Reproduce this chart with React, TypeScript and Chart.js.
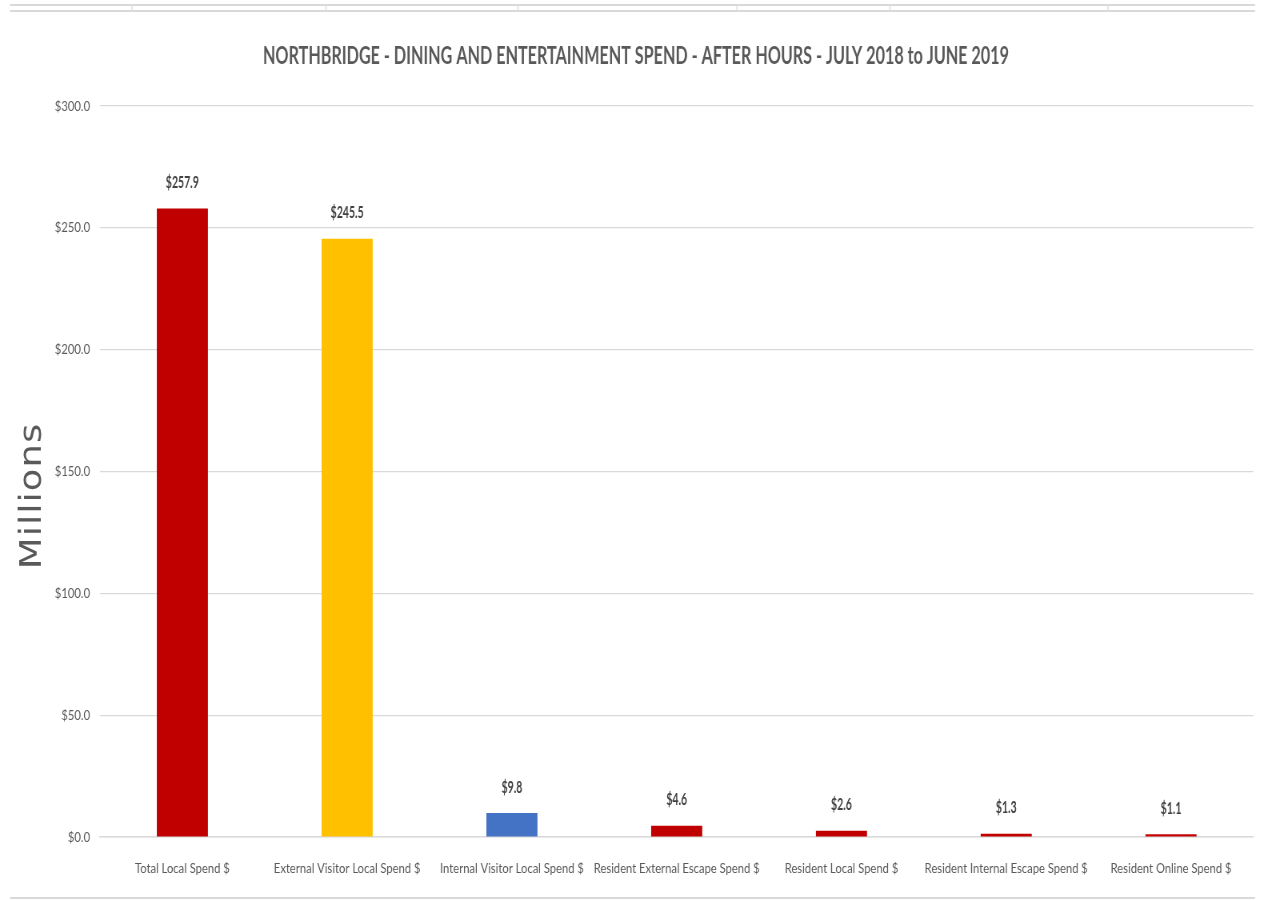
import React, { useEffect, useRef } from "react";
import { Chart, registerables } from "chart.js";

Chart.register(...registerables);

const categories = [
  "Total Local Spend $",
  "External Visitor Local Spend $",
  "Internal Visitor Local Spend $",
  "Resident External Escape Spend $",
  "Resident Local Spend $",
  "Resident Internal Escape Spend $",
  "Resident Online Spend $",
];
const values = [257.9, 245.5, 9.8, 4.6, 2.6, 1.3, 1.1];
const barColors = ["#C00000", "#FFC000", "#4472C4", "#C00000", "#C00000", "#C00000", "#C00000"];
const titleText = "NORTHBRIDGE - DINING AND ENTERTAINMENT SPEND - AFTER HOURS - JULY 2018 to JUNE 2019";
const yTitle = "Millions";

const SX = 0.8; // horizontal compression of the whole picture
const W = Math.round(1262 / SX);
const H = 900;
const FONT = 'Lato, "Open Sans", sans-serif';

const decorPlugin = {
  id: "decor",
  beforeDraw(chart: any) {
    const ctx = chart.ctx;
    ctx.save();
    ctx.fillStyle = "#fff";
    ctx.fillRect(0, 0, W, H);
    ctx.strokeStyle = "#d9d9d9";
    ctx.lineWidth = 2;
    ctx.beginPath();
    ctx.moveTo(10 / SX, 5);
    ctx.lineTo(1255 / SX, 5);
    ctx.moveTo(10 / SX, 11);
    ctx.lineTo(1255 / SX, 11);
    ctx.moveTo(10 / SX, 898);
    ctx.lineTo(1255 / SX, 898);
    ctx.stroke();
    ctx.lineWidth = 1.25;
    ctx.beginPath();
    [132, 326, 518, 737, 890, 1108].forEach((x) => {
      ctx.moveTo(x / SX, 5);
      ctx.lineTo(x / SX, 11);
    });
    ctx.stroke();
    ctx.restore();

    // chart title (extra-condensed bold)
    ctx.save();
    ctx.font = `bold 25px ${FONT}`;
    ctx.fillStyle = "#595959";
    ctx.textAlign = "center";
    ctx.textBaseline = "middle";
    const tw = ctx.measureText(titleText).width;
    const k = (746 / SX) / tw;
    ctx.translate(636 / SX, 56);
    ctx.scale(k, 1);
    ctx.fillText(titleText, 0, 0);
    ctx.restore();

    // y-axis title
    ctx.save();
    ctx.translate(33 / SX, 496);
    ctx.rotate(-Math.PI / 2);
    ctx.font = `37px "DejaVu Sans", sans-serif`;
    (ctx as any).letterSpacing = "1px";
    ctx.fillStyle = "#595959";
    ctx.textAlign = "center";
    ctx.textBaseline = "middle";
    ctx.fillText(yTitle, 0, 0);
    ctx.restore();
  },
  afterDatasetsDraw(chart: any) {
    const ctx = chart.ctx;
    const meta = chart.getDatasetMeta(0);
    ctx.save();
    ctx.font = `bold 17px ${FONT}`;
    ctx.fillStyle = "#404040";
    ctx.textAlign = "center";
    ctx.textBaseline = "middle";
    const k = (33 / SX) / ctx.measureText("$257.9").width;
    meta.data.forEach((el: any, i: number) => {
      ctx.save();
      ctx.translate(el.x, el.y - 26);
      ctx.scale(k, 1);
      ctx.fillText("$" + values[i].toFixed(1), 0, 0);
      ctx.restore();
    });
    ctx.restore();
  },
};

export default function App() {
  const ref = useRef<HTMLCanvasElement>(null);
  useEffect(() => {
    const chart = new Chart(ref.current!, {
      type: "bar",
      data: {
        labels: categories,
        datasets: [
          {
            data: values,
            backgroundColor: barColors,
            barPercentage: 0.31,
            categoryPercentage: 1,
          },
        ],
      },
      plugins: [decorPlugin],
      options: {
        responsive: false,
        animation: false,
        layout: { padding: { left: 0, right: 9 / SX, top: 106, bottom: 0 } },
        plugins: {
          legend: { display: false },
          tooltip: { enabled: false },
          title: { display: false },
        },
        scales: {
          x: {
            grid: { display: false, drawTicks: false },
            border: { color: "#d9d9d9", width: 1.5 },
            ticks: {
              color: "#595959",
              font: { family: FONT, size: 14 },
              padding: 23,
              maxRotation: 0,
              autoSkip: false,
            },
            afterFit: (s: any) => {
              s.height = 63;
            },
          },
          y: {
            min: 0,
            max: 300,
            grid: { color: "#d9d9d9", drawTicks: false, lineWidth: 1.25 },
            border: { display: false },
            ticks: {
              stepSize: 50,
              color: "#595959",
              font: { family: FONT, size: 14 },
              padding: 12.5,
              callback: (v: any) => "$" + Number(v).toFixed(1),
            },
            afterFit: (s: any) => {
              s.width = 100 / SX;
            },
          },
        },
      },
    });
    return () => chart.destroy();
  }, []);
  return (
    <div style={{ position: "absolute", left: 0, top: 0, width: 1262, height: 900, overflow: "hidden", background: "#fff" }}>
      <div style={{ width: W, height: H, transform: `scaleX(${SX})`, transformOrigin: "0 0" }}>
        <canvas ref={ref} width={W} height={H} style={{ display: "block" }} />
      </div>
    </div>
  );
}
